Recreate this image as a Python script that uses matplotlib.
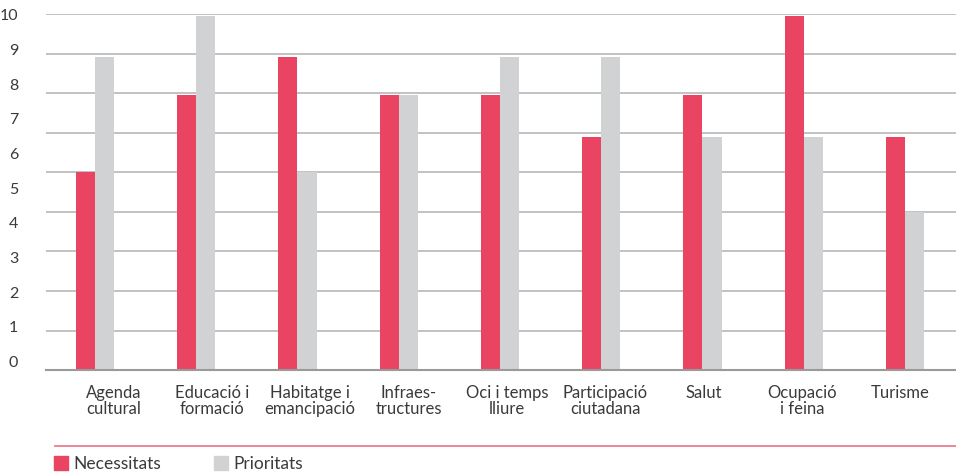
import numpy as np
import matplotlib.pyplot as plt
from matplotlib.lines import Line2D
from matplotlib.patches import Patch

# values read against the evenly spaced gridlines (gridline units, 0..9)
categories = ['Agenda\ncultural', 'Educació i\nformació', 'Habitatge i\nemancipació',
              'Infraes-\ntructures', 'Oci i temps\nlliure', 'Participació\nciutadana',
              'Salut', 'Ocupació\ni feina', 'Turisme']
necessitats = [5.0, 6.95, 7.92, 6.95, 6.95, 5.91, 6.95, 8.96, 5.91]
prioritats = [7.92, 8.97, 5.0, 6.95, 7.92, 7.92, 5.91, 5.91, 3.99]
ytick_labels = [str(k) for k in range(11)]

RED = '#e94462'
GREY = '#d1d2d4'
TXT = '#3a3a3a'

plt.rcParams['font.family'] = ['Lato', 'DejaVu Sans']

fig = plt.figure(figsize=(9.56, 4.73), dpi=100)
ax = fig.add_axes([46 / 956, 103 / 473, 910 / 956, 355.5 / 473])

x = np.arange(len(categories))
w = 0.188
ax.bar(x - w / 2, necessitats, w, color=RED, label='Necessitats', zorder=2)
ax.bar(x + w / 2, prioritats, w, color=GREY, label='Prioritats', zorder=2)

ax.set_xlim(-0.484, 8.504)
ax.set_ylim(0, 9)

# gridlines on integer steps, labels spread on their own (as in the original)
ax.set_yticks(np.arange(0, 10), minor=True)
ax.yaxis.grid(True, which='minor', color='#bdbdbd', linewidth=1.3)
ax.yaxis.grid(False, which='major')
ax.set_yticks(0.22 + 0.877 * np.arange(11))
ax.set_yticklabels(ytick_labels, fontsize=11.5, color=TXT)
ax.tick_params(axis='y', which='both', length=0, pad=20)
ax.set_axisbelow(True)

ax.set_xticks(0.18 + 0.972 * x)
ax.set_xticklabels(categories, fontsize=12, color=TXT, linespacing=1.0)
ax.tick_params(axis='x', length=0, pad=11)

for s in ['top', 'right', 'left']:
    ax.spines[s].set_visible(False)
ax.spines['bottom'].set_color('#9a9a9a')
ax.spines['bottom'].set_linewidth(1.5)

# pink rule above the legend
fig.add_artist(Line2D([55 / 956, 1.0], [27 / 473, 27 / 473],
                      color='#f07c90', linewidth=1.3))

handles = [Patch(color=RED), Patch(color=GREY)]
fig.legend(handles, ['Necessitats', 'Prioritats'], ncol=2, frameon=False,
           loc='upper left', bbox_to_anchor=(54 / 956, 17 / 473),
           fontsize=12.5, labelcolor=TXT, handlelength=0.8, handleheight=0.8,
           handletextpad=0.3, columnspacing=3.05, borderpad=0, borderaxespad=0)

fig.savefig('out.png', dpi=100)
